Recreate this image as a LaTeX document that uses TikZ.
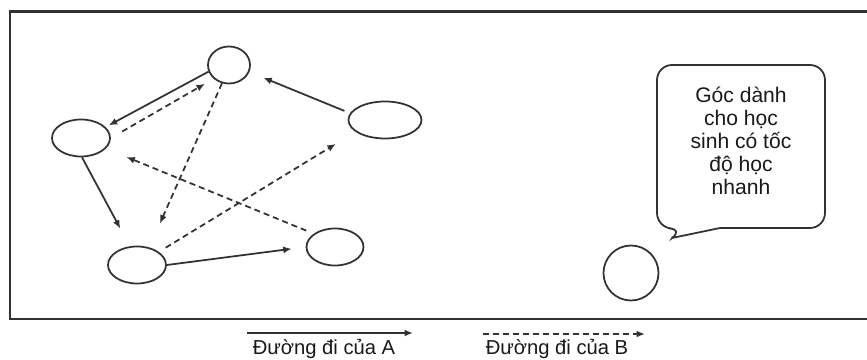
\documentclass[tikz,border=0pt]{standalone}
\usepackage{fontspec}
\setmainfont{Liberation Sans}
\usetikzlibrary{arrows.meta, shapes.geometric}

\definecolor{InkGray}{RGB}{50,50,50}

\begin{document}
\begin{tikzpicture}[
      spot/.style={draw=InkGray, line width=1pt, ellipse, inner sep=0pt,
                   minimum width=1.16cm, minimum height=0.74cm},
      pathA/.style={draw=InkGray, line width=1pt,
                    -{Latex[length=1.7mm, width=1.4mm]}},
      pathB/.style={pathA, dash pattern=on 1.2mm off 0.8mm},
      legend/.style={font=\fontsize{11.5}{13}\selectfont, text=black!90, anchor=base}
    ]
      \useasboundingbox (0,0) rectangle (17.34,-7.2);
      \draw[InkGray, line width=1.4pt] (17.34,-0.23) -- (0.20,-0.23) -- (0.20,-6.38) -- (17.34,-6.38);

      % students
      \node[spot, minimum width=0.84cm] (top)  at (4.58,-1.30) {};
      \node[spot]                       (left) at (1.62,-2.76) {};
      \node[spot, minimum width=1.46cm] (right) at (7.70,-2.40) {};
      \node[spot]                       (botl) at (2.74,-5.30) {};
      \node[spot, minimum width=1.14cm] (botr) at (6.70,-4.94) {};
      \node[spot, circle, minimum size=1.10cm] (fast) at (12.62,-5.46) {};

      % path of A
      \draw[pathA, shorten >=0.07cm] (top.198) -- (left.24);
      \draw[pathA, shorten <=0.12cm, shorten >=0.30cm] (right.169) -- (top.-19);
      \draw[pathA, shorten >=0.40cm] (left.273) -- (botl.111);
      \draw[pathA, shorten >=0.28cm] (botl.east) -- (botr.west);

      % path of B
      \draw[pathB, shorten <=0.26cm, shorten >=0.20cm] (left.east) -- (top.222);
      \draw[pathB, shorten >=0.52cm] (top.249) -- (botl.55);
      \draw[pathB, shorten <=0.16cm, shorten >=0.46cm] (botl.31) -- (right.202);
      \draw[pathB, shorten <=0.16cm, shorten >=0.44cm] (botr.148) -- (left.337);

      % corner for fast learners
      \draw[InkGray, line width=1pt] (16.50,-3.0) [rounded corners=0.3cm] -- (16.50,-1.30)
        -- (13.14,-1.30) -- (13.14,-4.56) -- (13.68,-4.58) [sharp corners] -- (13.44,-4.76)
        -- (14.40,-4.56) [rounded corners=0.3cm] -- (16.50,-4.56) -- cycle;
      \node[align=center, font=\fontsize{12}{13}\selectfont, text=black!90] (note) at (14.82,-2.82)
        {Góc dành\\cho học\\sinh có tốc\\độ học\\nhanh};

      % legend
      \coordinate (a1) at (4.94,-6.66);
      \coordinate (a2) at (8.26,-6.66);
      \coordinate (b1) at (9.66,-6.68);
      \coordinate (b2) at (12.90,-6.68);
      \draw[pathA] (a1) -- (a2);
      \draw[pathB] (b1) -- (b2);
      \node[legend] (labA) at (6.48,-7.10) {Đường đi của A};
      \node[legend] (labB) at (11.14,-7.10) {Đường đi của B};
    \end{tikzpicture}
\end{document}
